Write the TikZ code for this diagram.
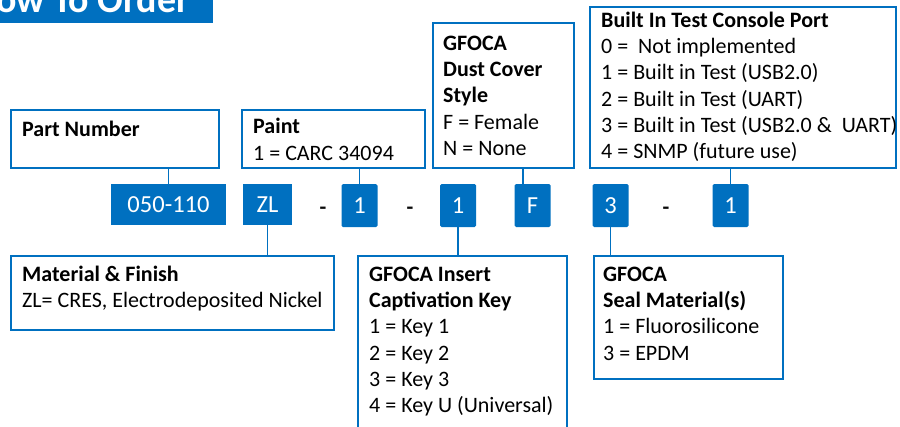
\documentclass[tikz,border=0pt]{standalone}
\usepackage{fontspec}
\setmainfont{Carlito}
\usetikzlibrary{fit}
\definecolor{orderblue}{RGB}{  0,112,192}
\definecolor{joinercol}{RGB}{ 10, 10, 10}
\tikzset{
  %% Outlined description card
  infobox/.style={
    draw=orderblue, line width=2.6pt,
    inner sep=0pt, outer sep=0pt
  },
  %% Text block in a card (first baseline fixed by a strut)
  cardtext/.style={
    anchor=north west, align=left, inner sep=0pt,
    font=\fontsize{22}{26.3}\selectfont
  },
  %% Filled code field
  codebox/.style={
    fill=orderblue, text=white, inner sep=0pt, outer sep=0pt,
    font=\fontsize{24.5}{27}\selectfont, minimum height=41pt
  },
  codechar/.style={
    codebox, rounded corners=1.5pt,
    minimum width=36pt, minimum height=43pt
  },
  joiner/.style={font=\fontsize{22}{26}\selectfont\bfseries,
    text=joinercol, inner sep=0pt},
  link/.style={draw=orderblue, line width=1.8pt},
  banner/.style={fill=orderblue, inner sep=0pt, outer sep=0pt},
  bannertitle/.style={anchor=base west, inner sep=0pt, text=white,
    font=\fontsize{38}{41}\selectfont\bfseries},
}

\begin{document}
\begin{tikzpicture}[x=1pt, y=-1pt]

  \useasboundingbox (0,0) rectangle (900,426);
  \clip (0,0) rectangle (900,426);

  %% ══════════════════════════════════════════════════════════════════
  %%  TITLE BANNER (cut by the page edge)
  %% ══════════════════════════════════════════════════════════════════
  \node[banner, fit={(-6,-6) (213,23)}] (bannerbox) {};
  \node[bannertitle] (title) at (-28,12) {How To Order};

  %% ══════════════════════════════════════════════════════════════════
  %%  CODE ROW
  %% ══════════════════════════════════════════════════════════════════
  \node[codebox, minimum width=115pt] (pnum)   at (168.5,204.5) {050-110};
  \node[codebox, minimum width=49pt]  (finish) at (267.5,204.5) {ZL};
  \node[codechar] (paintcode) at (359.5,205.5) {1};
  \node[codechar] (keycode)   at (458,205.5)   {1};
  \node[codechar] (dustcode)  at (532.5,205.5) {F};
  \node[codechar] (sealcode)  at (610.5,205.5) {3};
  \node[codechar] (bitcode)   at (730.5,205.5) {1};

  %% Separators
  \node[joiner] (joina) at (323,210.5) {-};
  \node[joiner] (joinb) at (410,210.5) {-};
  \node[joiner] (joinc) at (666,210.5) {-};

  %% ══════════════════════════════════════════════════════════════════
  %%  UPPER CARDS
  %% ══════════════════════════════════════════════════════════════════
  \node[infobox, fit={(11,110) (219,168)}] (pncard) {};
  \node[cardtext] (pntext) at ([shift={(11,7.6)}]pncard.north west)
        {\strut\textbf{Part Number}};

  \node[infobox, fit={(242,110) (425,168)}] (paintcard) {};
  \node[cardtext] (painttext) at ([shift={(11,5.1)}]paintcard.north west)
        {\strut\textbf{Paint}\\1 = CARC 34094};

  \node[infobox, fit={(433,23) (574,168)}] (dustcard) {};
  \node[cardtext] (dusttext) at ([shift={(10,8.6)}]dustcard.north west)
        {\strut\textbf{GFOCA}\\\textbf{Dust Cover}\\\textbf{Style}\\
         F = Female\\N = None};

  \node[infobox, fit={(590,7) (896,168)}] (bitcard) {};
  \node[cardtext] (bittext) at ([shift={(11,1.6)}]bitcard.north west)
        {\strut\textbf{Built In Test Console Port}\\
         0 =~~Not implemented\\
         1 = Built in Test (USB2.0)\\
         2 = Built in Test (UART)\\
         3 = Built in Test (USB2.0 \&~~UART)\\
         4 = SNMP (future use)};

  %% ══════════════════════════════════════════════════════════════════
  %%  LOWER CARDS
  %% ══════════════════════════════════════════════════════════════════
  \node[infobox, fit={(11,256) (334,330)}] (matcard) {};
  \node[cardtext] (mattext) at ([shift={(11,6.6)}]matcard.north west)
        {\strut\textbf{Material \& Finish}\\ZL= CRES, Electrodeposited Nickel};

  \node[infobox, fit={(358,256) (567,445)}] (keycard) {};
  \node[cardtext] (keytext) at ([shift={(11,6.6)}]keycard.north west)
        {\strut\textbf{GFOCA Insert}\\\textbf{Captivation Key}\\
         1 = Key 1\\2 = Key 2\\3 = Key 3\\4 = Key U (Universal)};

  \node[infobox, fit={(594,256) (783,379)}] (sealcard) {};
  \node[cardtext] (sealtext) at ([shift={(9,6.6)}]sealcard.north west)
        {\strut\textbf{GFOCA}\\\textbf{Seal Material(s)}\\
         1 = Fluorosilicone\\3 = EPDM};

  %% ══════════════════════════════════════════════════════════════════
  %%  CONNECTORS
  %% ══════════════════════════════════════════════════════════════════
  \coordinate (dustdrop) at ([xshift=-9.5pt]dustcode.north);

  \draw[link] (pnum.north)      -- (pnum.north |- pncard.south);
  \draw[link] (paintcode.north) -- (paintcode.north |- paintcard.south);
  \draw[link] (dustdrop)        -- (dustdrop |- dustcard.south);
  \draw[link] (bitcode.north)   -- (bitcode.north |- bitcard.south);
  \draw[link] (finish.south)    -- (finish.south |- matcard.north);
  \draw[link] (keycode.south)   -- (keycode.south |- keycard.north);
  \draw[link] (sealcode.south)  -- (sealcode.south |- sealcard.north);

\end{tikzpicture}
\end{document}
